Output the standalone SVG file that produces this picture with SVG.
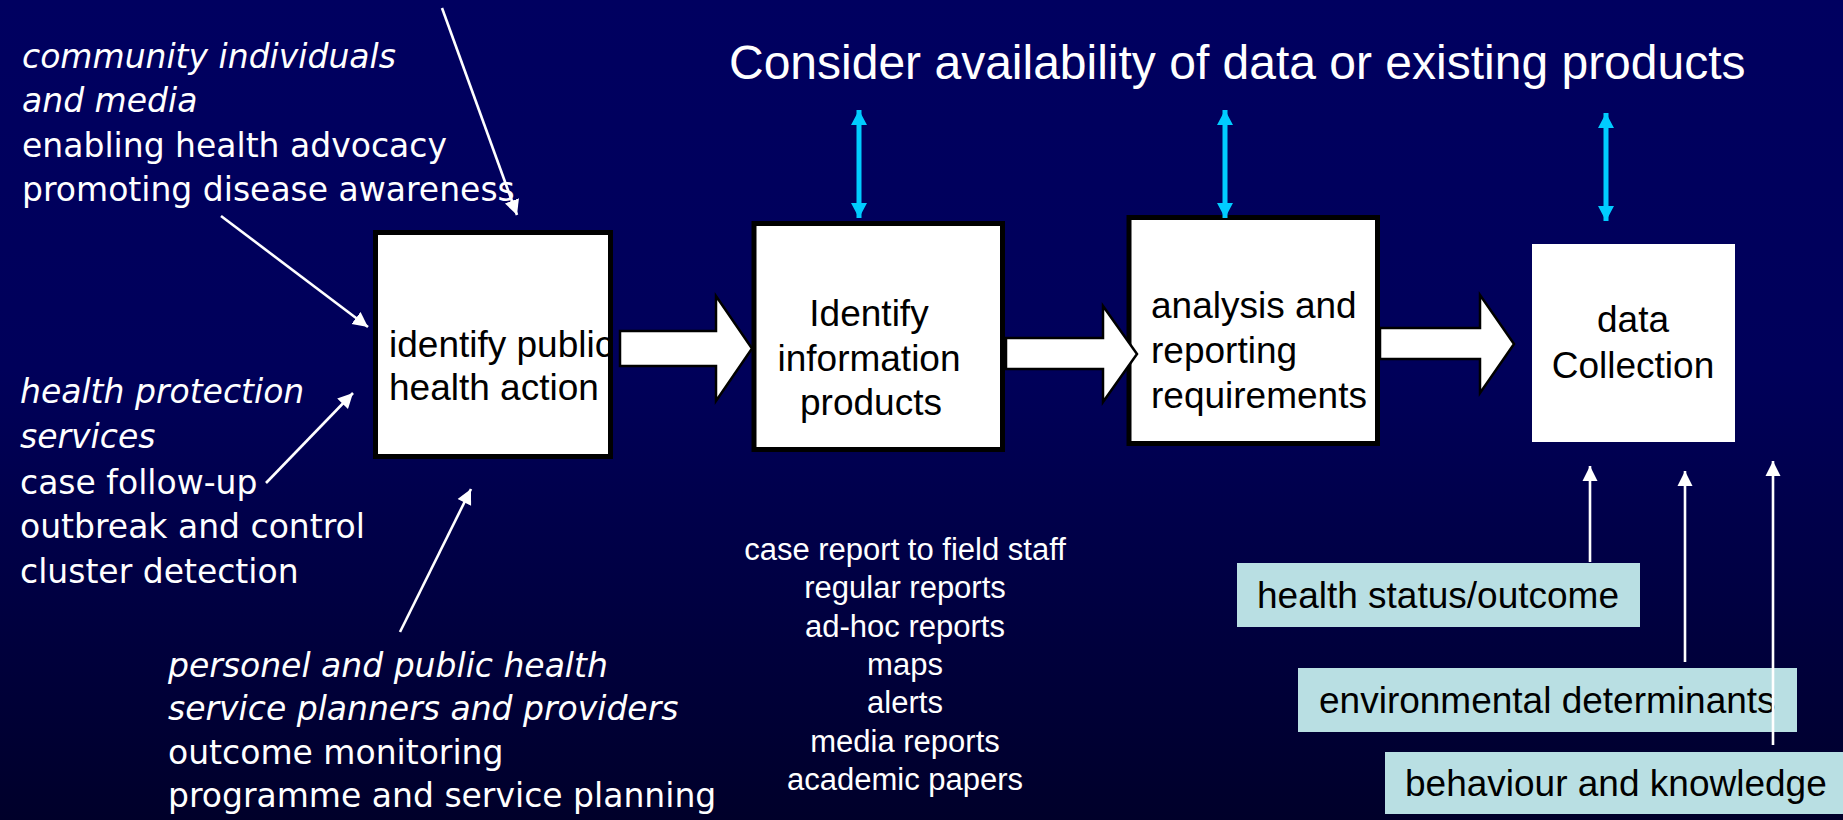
<svg xmlns="http://www.w3.org/2000/svg" width="1843" height="820" viewBox="0 0 1843 820">
<defs>
<linearGradient id="bg" x1="0" y1="0" x2="0" y2="1">
<stop offset="0" stop-color="#000060"/>
<stop offset="0.45" stop-color="#00005a"/>
<stop offset="1" stop-color="#00002a"/>
</linearGradient>
<marker id="cyanHead" markerUnits="userSpaceOnUse" markerWidth="16" markerHeight="16" refX="15" refY="8" orient="auto-start-reverse" viewBox="0 0 16 16">
<path d="M0,0 L15,8 L0,16 z" fill="#00ccff"/>
</marker>
<marker id="whiteHead" markerUnits="userSpaceOnUse" markerWidth="16" markerHeight="16" refX="15" refY="8" orient="auto" viewBox="0 0 16 16">
<path d="M0,0.5 L15,8 L0,15.5 z" fill="#ffffff"/>
</marker>
<style>
.sans{font-family:"Liberation Sans",Arial,sans-serif;}
.hand{font-family:"DejaVu Sans",sans-serif;font-size:33px;fill:#ffffff;}
.it{font-style:italic;}
.boxtxt{font-family:"Liberation Sans",Arial,sans-serif;font-size:37px;fill:#000000;}
.boxfill{fill:#ffffff;}
.boxline{fill:none;stroke:#000000;stroke-width:5;}
.teal{fill:#b9dfe3;}
.block{fill:#ffffff;stroke:#000000;stroke-width:2.5;stroke-linejoin:miter;}
.cyan{stroke:#00ccff;stroke-width:5;fill:none;marker-start:url(#cyanHead);marker-end:url(#cyanHead);}
.wline{stroke:#ffffff;stroke-width:2.6;fill:none;marker-end:url(#whiteHead);}
.list{font-family:"Liberation Sans",Arial,sans-serif;font-size:31px;fill:#ffffff;text-anchor:middle;}
</style>
</defs>
<rect x="0" y="0" width="1843" height="820" fill="url(#bg)"/>

<g id="title">
<text class="sans" x="729" y="79" font-size="48" fill="#ffffff">Consider availability of data or existing products</text>
</g>

<g id="community-text" class="hand">
<text class="it" x="22" y="68">community individuals</text>
<text class="it" x="22" y="112">and media</text>
<text x="22" y="157">enabling health advocacy</text>
<text x="22" y="201">promoting disease awareness</text>
</g>

<g id="protection-text" class="hand">
<text class="it" x="20" y="403">health protection</text>
<text class="it" x="20" y="448">services</text>
<text x="20" y="494">case follow-up</text>
<text x="20" y="538">outbreak and control</text>
<text x="20" y="583">cluster detection</text>
</g>

<g id="personel-text" class="hand">
<text class="it" x="168" y="677">personel and public health</text>
<text class="it" x="168" y="720">service planners and providers</text>
<text x="168" y="764">outcome monitoring</text>
<text x="168" y="807">programme and service planning</text>
</g>

<g id="products-list" class="list">
<text x="905" y="560">case report to field staff</text>
<text x="905" y="598">regular reports</text>
<text x="905" y="637">ad-hoc reports</text>
<text x="905" y="675">maps</text>
<text x="905" y="713">alerts</text>
<text x="905" y="752">media reports</text>
<text x="905" y="790">academic papers</text>
</g>

<g id="node-action">
<rect class="boxfill" x="375.5" y="232.5" width="235" height="224"/>
<text class="boxtxt" x="389" y="357">identify public</text>
<text class="boxtxt" x="389" y="400">health action</text>
<rect class="boxline" x="375.5" y="232.5" width="235" height="224"/>
</g>

<g id="node-products">
<rect class="boxfill" x="754" y="223.5" width="248.5" height="226"/>
<rect class="boxline" x="754" y="223.5" width="248.5" height="226"/>
<text class="boxtxt" x="869" y="326" text-anchor="middle">Identify</text>
<text class="boxtxt" x="869" y="371" text-anchor="middle">information</text>
<text class="boxtxt" x="871" y="415" text-anchor="middle">products</text>
</g>

<g id="node-analysis">
<rect class="boxfill" x="1129" y="217.5" width="248.5" height="226"/>
<rect class="boxline" x="1129" y="217.5" width="248.5" height="226"/>
<text class="boxtxt" x="1151" y="318">analysis and</text>
<text class="boxtxt" x="1151" y="363">reporting</text>
<text class="boxtxt" x="1151" y="408">requirements</text>
</g>

<g id="node-collection">
<rect class="boxfill" x="1532" y="244" width="203" height="198"/>
<text class="boxtxt" x="1633" y="332" text-anchor="middle">data</text>
<text class="boxtxt" x="1633" y="378" text-anchor="middle">Collection</text>
</g>

<g id="node-health-status">
<rect class="teal" x="1237" y="563" width="403" height="64"/>
<text class="boxtxt" x="1257" y="608">health status/outcome</text>
</g>

<g id="node-environmental">
<rect class="teal" x="1298" y="668" width="499" height="64"/>
<text class="boxtxt" x="1319" y="713">environmental determinants</text>
</g>

<g id="node-behaviour">
<rect class="teal" x="1385" y="752" width="458" height="62"/>
<text class="boxtxt" x="1405" y="796">behaviour and knowledge</text>
</g>

<g id="connectors">
<polygon class="block" points="620,331 716,331 716,296 752,348.5 716,401 716,366 620,366"/>
<polygon class="block" points="1006,338 1103,338 1103,306 1137,354 1103,402 1103,369 1006,369"/>
<polygon class="block" points="1380,328 1480,328 1480,295 1514,344 1480,393 1480,359 1380,359"/>
<line class="cyan" x1="859" y1="110" x2="859" y2="218"/>
<line class="cyan" x1="1225" y1="110" x2="1225" y2="218"/>
<line class="cyan" x1="1606" y1="113" x2="1606" y2="221"/>
<line class="wline" x1="442" y1="8" x2="517" y2="215"/>
<line class="wline" x1="221" y1="216" x2="368" y2="327"/>
<line class="wline" x1="266" y1="483" x2="353" y2="393"/>
<line class="wline" x1="400" y1="632" x2="471" y2="489"/>
<line class="wline" x1="1590" y1="562" x2="1590" y2="466"/>
<line class="wline" x1="1685" y1="662" x2="1685" y2="471"/>
<line class="wline" x1="1773" y1="745" x2="1773" y2="461"/>
</g>
</svg>
